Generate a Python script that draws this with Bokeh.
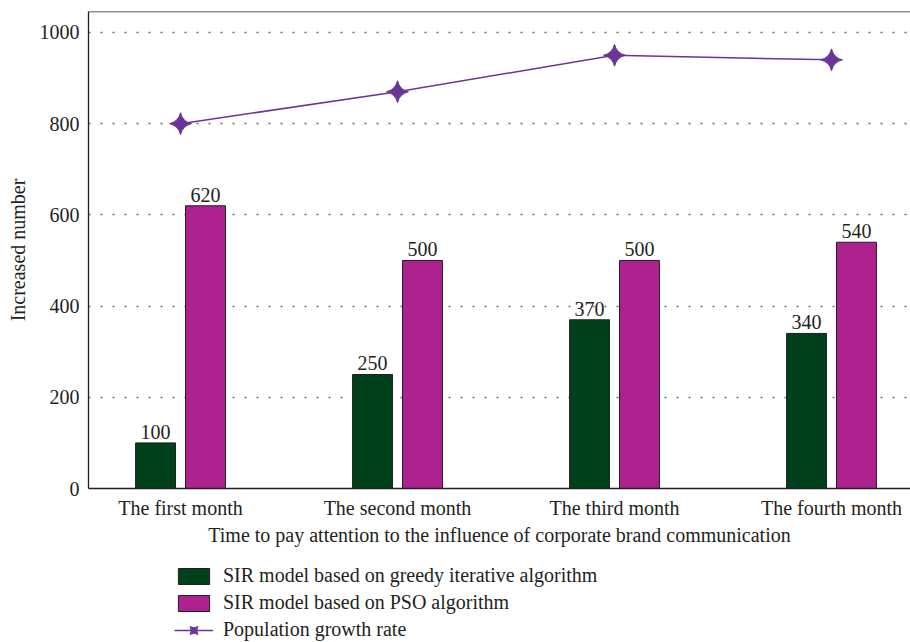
import numpy as np
from bokeh.plotting import figure
from bokeh.layouts import column
from bokeh.models import (ColumnDataSource, Range1d, FixedTicker, Legend, LegendItem,
                          Span, LabelSet)
from bokeh.transform import dodge
from bokeh.core.properties import value
from bokeh.embed import file_html
from bokeh.resources import INLINE

# ---- data -------------------------------------------------------------
months = ["The first month", "The second month", "The third month", "The fourth month"]
greedy = [100, 250, 370, 340]          # SIR model based on greedy iterative algorithm
pso = [620, 500, 500, 540]             # SIR model based on PSO algorithm
growth = [800, 870, 950, 940]          # population growth rate
y_ticks = [0, 200, 400, 600, 800, 1000]

# ---- styling ----------------------------------------------------------
FONT = "Liberation Serif"
INK = "#231f20"
GREEN = "#00401a"
MAGENTA = "#ad228f"
PURPLE = "#6b3597"
FS = "20px"
BAR_W = 0.184
OFF = 0.115

x = [float(i) for i in range(len(months))]
src = ColumnDataSource(dict(
    x=x, greedy=greedy, pso=pso, growth=growth,
    greedy_txt=[str(v) for v in greedy], pso_txt=[str(v) for v in pso],
))


def draw_series(fig):
    """Bars and growth line; returns the renderers for the legend."""
    g = fig.vbar(x=dodge("x", -OFF), top="greedy", width=BAR_W,
                 source=src, fill_color=GREEN, line_color=INK, line_width=1)
    m = fig.vbar(x=dodge("x", OFF), top="pso", width=BAR_W,
                 source=src, fill_color=MAGENTA, line_color=INK, line_width=1)
    ln = fig.line(x="x", y="growth", source=src, line_color=PURPLE, line_width=1.5)
    st = fig.scatter(x="x", y="growth", source=src, marker="square_pin", angle=np.pi / 4,
                     size=15.5, fill_color=PURPLE, line_color=PURPLE)
    return g, m, ln, st


# ---- main chart -------------------------------------------------------
p = figure(frame_width=822, frame_height=477, output_backend="svg", toolbar_location=None,
           x_range=Range1d(-0.424, 3.364), y_range=Range1d(0, 1046),
           min_border_left=88, min_border_right=0, min_border_top=11,
           min_border_bottom=75)
p.outline_line_color = None

p.xaxis.ticker = FixedTicker(ticks=x)
p.xaxis.major_label_overrides = {i: m for i, m in enumerate(months)}
p.yaxis.ticker = FixedTicker(ticks=y_ticks)
p.xaxis.axis_label = "Time to pay attention to the influence of corporate brand communication"
p.yaxis.axis_label = "Increased number"
for ax in (p.xaxis, p.yaxis):
    ax.axis_line_color = INK
    ax.axis_line_width = 1.3
    ax.major_tick_line_color = None
    ax.minor_tick_line_color = None
    ax.major_tick_out = 0
    ax.major_label_text_font = FONT
    ax.major_label_text_font_size = FS
    ax.major_label_text_color = INK
    ax.axis_label_text_font = FONT
    ax.axis_label_text_font_size = FS
    ax.axis_label_text_font_style = "normal"
    ax.axis_label_text_color = INK
p.xaxis.major_label_standoff = 8
p.xaxis.axis_label_standoff = 2
p.yaxis.major_label_standoff = 9
p.yaxis.axis_label_standoff = 8

p.xgrid.visible = False
p.ygrid.ticker = FixedTicker(ticks=y_ticks)
p.ygrid.grid_line_color = "#6e6e6e"
p.ygrid.grid_line_dash = "2 10"
p.ygrid.grid_line_width = 1.4

# top frame edge
p.add_layout(Span(location=1046, dimension="width", line_color=INK, line_width=1.3))

draw_series(p)

for col, txt, off in (("greedy", "greedy_txt", -OFF), ("pso", "pso_txt", OFF)):
    p.add_layout(LabelSet(x=dodge("x", off), y=col, text=txt, source=src,
                          y_offset=4, text_align="center", text_baseline="alphabetic",
                          text_font=value(FONT), text_font_size=FS, text_color=INK))

# ---- legend strip under the chart -------------------------------------
# same series drawn outside the strip's visible range, so only the legend shows
lg = figure(width=910, height=79, output_backend="svg", toolbar_location=None,
            x_range=Range1d(10, 11), y_range=Range1d(5000, 5001),
            x_axis_type=None, y_axis_type=None, min_border=0)
lg.outline_line_color = None
lg.xgrid.visible = False
lg.ygrid.visible = False
r_green, r_mag, r_line, r_star = draw_series(lg)

legend = Legend(items=[
    LegendItem(label="SIR model based on greedy iterative algorithm", renderers=[r_green]),
    LegendItem(label="SIR model based on PSO algorithm", renderers=[r_mag]),
    LegendItem(label="Population growth rate", renderers=[r_line, r_star]),
], location=(86, 1), orientation="vertical", margin=0, padding=0, spacing=4,
    glyph_width=39, glyph_height=20, label_height=20, label_standoff=10,
    label_text_font=FONT, label_text_font_size=FS, label_text_color=INK,
    border_line_color=None, background_fill_alpha=0)
lg.add_layout(legend)

page = column(p, lg, spacing=0)
open("out.html", "w").write(file_html(page, INLINE))
